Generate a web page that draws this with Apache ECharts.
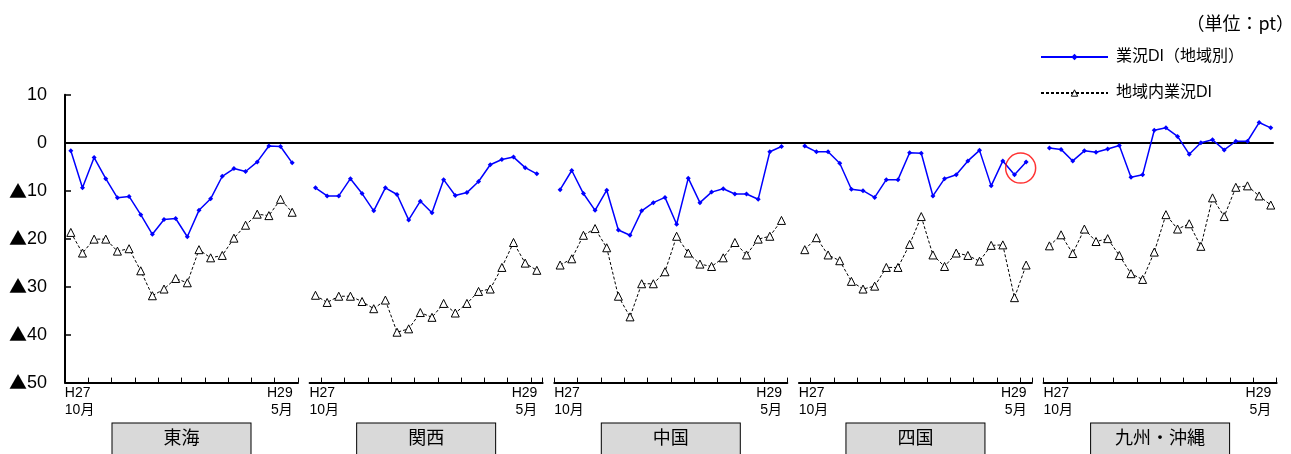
<!DOCTYPE html>
<html><head><meta charset="utf-8">
<script src="https://cdn.jsdelivr.net/npm/echarts@6/dist/echarts.min.js"></script>
<style>html,body{margin:0;padding:0;background:#fff}#c{width:1291px;height:454px}</style>
</head><body><div id="c"></div>
<script>
// ---- data ----
const regions = ['東海', '関西', '中国', '四国', '九州・沖縄'];
const months = ['H27.10','H27.11','H27.12','H28.1','H28.2','H28.3','H28.4','H28.5','H28.6','H28.7',
                'H28.8','H28.9','H28.10','H28.11','H28.12','H29.1','H29.2','H29.3','H29.4','H29.5'];
const firstTickLabel = ['H27', '10月'];
const lastTickLabel = ['H29', '5月'];
const yTicks = [10, 0, -10, -20, -30, -40, -50];
const seriesNames = ['業況DI（地域別）', '地域内業況DI'];
const unitText = '（単位：pt）';

const diTokai   = [-1.7,-9.4,-3.1,-7.5,-11.5,-11.2,-15.0,-19.1,-16.0,-15.8,-19.6,-14.1,-11.7,-7.0,-5.4,-6.0,-4.0,-0.7,-0.8,-4.2];
const diKansai  = [-9.4,-11.1,-11.1,-7.5,-10.6,-14.2,-9.4,-10.8,-16.1,-12.2,-14.6,-7.7,-11.0,-10.4,-8.1,-4.6,-3.5,-3.0,-5.2,-6.5];
const diChugoku = [-9.8,-5.8,-10.6,-14.1,-9.9,-18.2,-19.3,-14.2,-12.5,-11.4,-17.0,-7.4,-12.5,-10.3,-9.6,-10.7,-10.7,-11.8,-1.9,-0.8];
const diShikoku = [-0.7,-1.9,-1.9,-4.3,-9.7,-10.0,-11.4,-7.7,-7.7,-2.1,-2.2,-11.1,-7.5,-6.7,-3.8,-1.6,-9.0,-3.8,-6.7,-4.0];
const diKyushu  = [-1.1,-1.4,-3.8,-1.7,-2.0,-1.3,-0.6,-7.2,-6.7,2.6,3.1,1.3,-2.4,0.0,0.6,-1.5,0.3,0.3,4.2,3.1];

const inTokai   = [-18.7,-23.0,-20.1,-20.1,-22.6,-22.1,-26.7,-31.9,-30.5,-28.3,-29.2,-22.3,-24.0,-23.5,-19.9,-17.2,-14.9,-15.2,-11.8,-14.5];
const inKansai  = [-31.8,-33.3,-32.0,-32.0,-33.1,-34.6,-32.8,-39.5,-38.8,-35.4,-36.4,-33.5,-35.5,-33.5,-31.0,-30.5,-26.0,-20.8,-25.1,-26.6];
const inChugoku = [-25.5,-24.2,-19.3,-17.9,-21.9,-32.0,-36.3,-29.4,-29.4,-26.9,-19.5,-23.0,-25.3,-25.8,-24.0,-20.8,-23.4,-20.1,-19.5,-16.2];
const inShikoku = [-22.3,-19.8,-23.4,-24.6,-28.9,-30.5,-29.9,-26.0,-26.0,-21.2,-15.4,-23.4,-25.8,-23.0,-23.5,-24.7,-21.4,-21.3,-32.3,-25.5];
const inKyushu  = [-21.5,-19.2,-23.1,-18.0,-20.6,-20.0,-23.5,-27.3,-28.5,-22.8,-15.0,-18.0,-16.9,-21.6,-11.5,-15.4,-9.3,-9.0,-11.1,-13.0];

// highlight circle (Shikoku panel, between last two points): [panelIndex, xIndex, value]
const highlight = [3, 18.53, -5.3];

const diAll = [diTokai, diKansai, diChugoku, diShikoku, diKyushu];
const inAll = [inTokai, inKansai, inChugoku, inShikoku, inKyushu];

// ---- layout ----
const FONT = "'Liberation Sans', 'Noto Sans CJK JP', sans-serif";
const CJK = "'Noto Sans CJK JP', sans-serif";
const GL = 65, TOP = 94.7, H = 287.9, SLOT = 11.65, PW = 20 * SLOT, STEP = 21 * SLOT;

const chart = echarts.init(document.getElementById('c'), null, {renderer: 'canvas'});

const grids = [{left: GL, top: TOP, width: 1208, height: H, outerBoundsMode: 'none', containLabel: false}];
const xAxes = [{
  gridIndex: 0, type: 'value', min: 0, max: 1,
  axisLine: {show: true, onZero: true, lineStyle: {color: '#000', width: 2}},
  axisTick: {show: false}, axisLabel: {show: false}, splitLine: {show: false}
}];
const yAxes = [{
  gridIndex: 0, type: 'value', min: -50, max: 10, interval: 10,
  axisLine: {show: true, onZero: false, lineStyle: {color: '#000', width: 2}},
  axisTick: {show: true, inside: true, length: 6, lineStyle: {color: '#000', width: 1.5}},
  axisLabel: {margin: 18, color: '#000',
    formatter: v => (yTicks.indexOf(v) < 0 ? '' : (v < 0 ? '{t|▲}{n|' + (-v) + '}' : '{n|' + v + '}')),
    rich: {
      t: {fontSize: 18, fontFamily: CJK, color: '#000', lineHeight: 20},
      n: {fontSize: 18, fontFamily: FONT, color: '#000', lineHeight: 20}
    }},
  splitLine: {show: false}
}];
const series = [];

regions.forEach((reg, i) => {
  grids.push({left: GL + STEP * i, top: TOP, width: PW, height: H, outerBoundsMode: 'none', containLabel: false});
  xAxes.push({
    gridIndex: i + 1, type: 'category', data: months, boundaryGap: true, position: 'bottom',
    axisLine: {show: true, onZero: false, lineStyle: {color: '#000', width: 2}},
    axisTick: {show: true, inside: true, length: 5, lineStyle: {color: '#000', width: 1},
      interval: idx => ((21 * i + idx) % 2 === 0)},
    axisLabel: {
      interval: idx => (idx === 0 || idx === months.length - 1), margin: 2,
      formatter: (v, idx) => idx === 0
        ? '{a|' + firstTickLabel[0] + '}\n{a|' + firstTickLabel[1] + '}'
        : '{c|' + lastTickLabel[0] + '}\n{c|' + lastTickLabel[1] + '}',
      rich: {
        a: {width: 12, align: 'left', fontSize: 14, lineHeight: 17, color: '#000', fontFamily: FONT},
        c: {width: 1, align: 'right', fontSize: 14, lineHeight: 17, color: '#000', fontFamily: FONT}
      }
    },
    splitLine: {show: false},
    name: '{b|' + reg + '}', nameLocation: 'middle', nameGap: 41,
    nameTextStyle: {rich: {b: {width: 138, height: 31, align: 'center', verticalAlign: 'middle',
      backgroundColor: '#d9d9d9', borderColor: '#000', borderWidth: 1,
      fontSize: 18, color: '#000', fontFamily: FONT}}}
  });
  yAxes.push({gridIndex: i + 1, type: 'value', min: -50, max: 10, interval: 10, show: false});

  series.push({
    type: 'line', name: seriesNames[0], xAxisIndex: i + 1, yAxisIndex: i + 1,
    data: diAll[i], symbol: 'diamond', symbolSize: 5, showAllSymbol: true,
    lineStyle: {color: '#0000ff', width: 1.5}, itemStyle: {color: '#0000ff'},
    z: 4, animation: false
  });
  series.push({
    type: 'line', name: seriesNames[1], xAxisIndex: i + 1, yAxisIndex: i + 1,
    data: inAll[i], symbol: 'triangle', symbolSize: 8, showAllSymbol: true,
    lineStyle: {color: '#000', width: 1, type: [3, 2]},
    itemStyle: {color: '#fff', borderColor: '#000', borderWidth: 1},
    z: 3, animation: false
  });
});

// helper x-axis (value) for the highlight circle
xAxes.push({gridIndex: highlight[0] + 1, type: 'value', min: -0.5, max: 19.5, show: false});
series.push({
  type: 'scatter', name: 'highlight', xAxisIndex: xAxes.length - 1, yAxisIndex: highlight[0] + 1,
  data: [[highlight[1], highlight[2]]], symbol: 'circle', symbolSize: 30, silent: true,
  itemStyle: {color: 'rgba(0,0,0,0)', borderColor: '#ff0000', borderWidth: 1.5},
  z: 5, animation: false
});

chart.setOption({
  animation: false,
  backgroundColor: '#fff',
  title: {text: unitText, right: -8, top: 9,
    textStyle: {fontSize: 18, fontWeight: 'normal', color: '#000', fontFamily: CJK}},
  legend: {
    data: [
      {name: seriesNames[0], itemStyle: {color: '#0000ff'}},
      {name: seriesNames[1], itemStyle: {color: '#fff', borderColor: '#000', borderWidth: 1}}
    ],
    orient: 'vertical', left: 1040, top: 47, padding: 0,
    itemWidth: 67, itemHeight: 8, itemGap: 16, selectedMode: false,
    textStyle: {fontSize: 16, lineHeight: 20, color: '#000', fontFamily: FONT, padding: [0, 0, 0, 3]}
  },
  grid: grids, xAxis: xAxes, yAxis: yAxes, series: series
});
</script>
</body></html>
